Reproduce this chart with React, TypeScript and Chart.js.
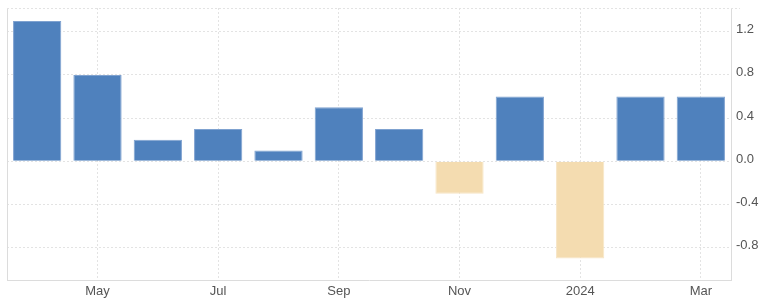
import React, { useEffect, useRef } from "react";
import { Chart, registerables } from "chart.js";

Chart.register(...registerables);

const categories = ["Apr", "May", "Jun", "Jul", "Aug", "Sep", "Oct", "Nov", "Dec", "2024", "Feb", "Mar"];
const values = [1.3, 0.8, 0.2, 0.3, 0.1, 0.5, 0.3, -0.3, 0.6, -0.9, 0.6, 0.6];
const yTicks = [-0.8, -0.4, 0, 0.4, 0.8, 1.2];
const yMin = -1.1;
const yMax = 1.42;

const POS = "#4F81BD";
const POS_BORDER = "#7fa2d0";
const NEG = "#F4DCB0";
const NEG_BORDER = "#f7e5c5";
const GRID = "#e3e3e3";
const AXIS = "#dcdcdc";
const TEXT = "#555555";

const framePlugin = {
  id: "frame",
  beforeDatasetsDraw(chart: any) {
    const { ctx, chartArea } = chart;
    ctx.save();
    ctx.strokeStyle = AXIS;
    ctx.lineWidth = 1;
    ctx.beginPath();
    ctx.moveTo(chartArea.left + 0.5, chartArea.top);
    ctx.lineTo(chartArea.left + 0.5, chartArea.bottom);
    ctx.stroke();
    ctx.strokeStyle = GRID;
    ctx.setLineDash([2, 2]);
    ctx.beginPath();
    ctx.moveTo(chartArea.left, chartArea.top + 0.5);
    ctx.lineTo(chartArea.right + 9, chartArea.top + 0.5);
    ctx.stroke();
    ctx.restore();
  },
};

export default function App() {
  const ref = useRef<HTMLCanvasElement | null>(null);
  useEffect(() => {
    if (!ref.current) return;
    const chart = new Chart(ref.current, {
      type: "bar",
      data: {
        labels: categories,
        datasets: [
          {
            data: values,
            backgroundColor: values.map((v) => (v >= 0 ? POS : NEG)),
            borderColor: values.map((v) => (v >= 0 ? POS_BORDER : NEG_BORDER)),
            borderWidth: 1,
            barPercentage: 0.8,
            categoryPercentage: 1,
          },
        ],
      },
      options: {
        responsive: false,
        animation: false,
        layout: { padding: { left: 7, top: 8, right: 0, bottom: 0 } },
        plugins: { legend: { display: false }, tooltip: { enabled: false } },
        scales: {
          x: {
            offset: true,
            grid: {
              offset: false,
              drawTicks: false,
              color: (c: any) => (c.index % 2 === 1 ? GRID : "rgba(0,0,0,0)"),
            },
            border: { display: true, color: AXIS, dash: [2, 2] },
            ticks: {
              padding: 4,
              color: TEXT,
              font: { family: "Liberation Sans, Arial, sans-serif", size: 13 },
              autoSkip: false,
              maxRotation: 0,
              callback: (_v: any, i: number) => (i % 2 === 1 ? categories[i] : ""),
            },
            afterFit: (s: any) => {
              s.height = 24;
              s.paddingLeft = 0;
              s.paddingRight = 0;
            },
          },
          y: {
            position: "right",
            min: yMin,
            max: yMax,
            afterBuildTicks: (s: any) => {
              s.ticks = yTicks.map((v) => ({ value: v }));
            },
            grid: {
              drawTicks: false,
              color: GRID,
            },
            border: { display: true, color: AXIS, dash: [2, 2] },
            ticks: {
              padding: 5,
              labelOffset: -2,
              color: TEXT,
              font: { family: "Liberation Sans, Arial, sans-serif", size: 13 },
              callback: (v: any) => Number(v).toFixed(1),
            },
            afterFit: (s: any) => {
              s.width = 37;
              s.paddingTop = 0;
              s.paddingBottom = 0;
            },
          },
        },
      },
      plugins: [framePlugin],
    });
    return () => chart.destroy();
  }, []);
  return (
    <div style={{ position: "fixed", left: 0, top: 0, width: 768, height: 304, background: "#fff" }}>
      <canvas ref={ref} width={768} height={304} />
    </div>
  );
}
